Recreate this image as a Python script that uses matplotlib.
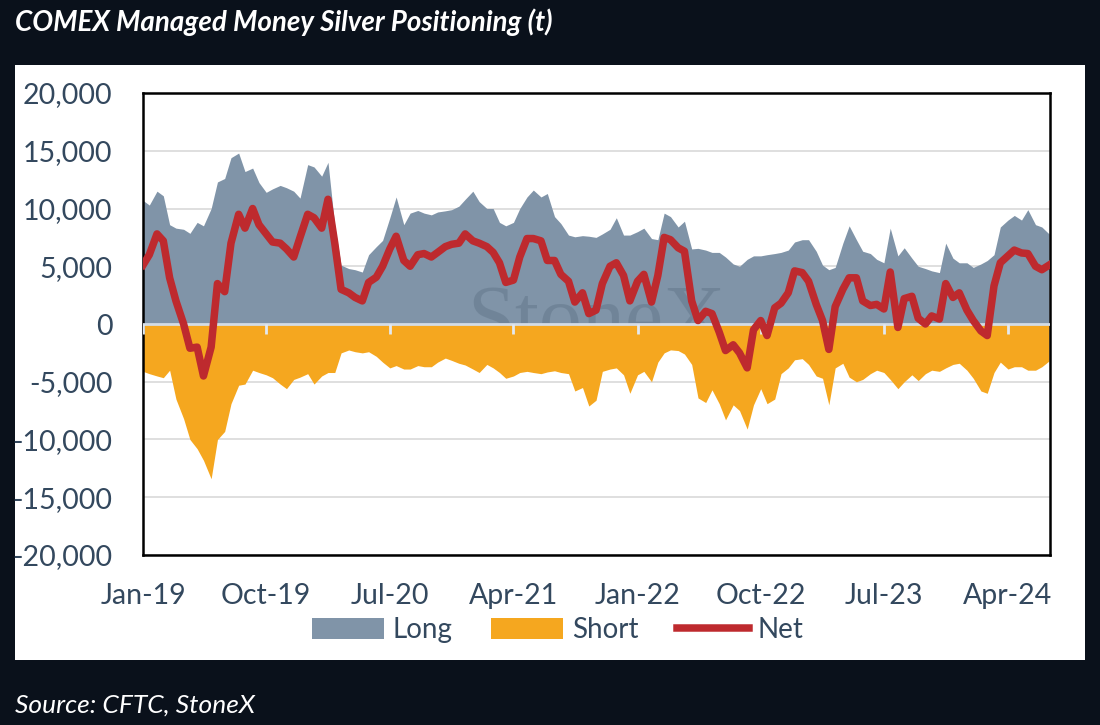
import matplotlib
matplotlib.use('Agg')
import matplotlib.pyplot as plt
import matplotlib.dates as mdates
from matplotlib.patches import Patch, Rectangle
from matplotlib.lines import Line2D
from matplotlib.ticker import FuncFormatter
import numpy as np
import pandas as pd

# semi-monthly samples, Jan-19 .. Jul-24 (tonnes)
dates = pd.date_range('2019-01-01', periods=133, freq='SMS')

long_pos = [10700, 10300, 11500, 11100, 8600, 8300, 8200, 7850, 8800, 8500,
            10000, 12300, 12600, 14400, 14800, 13200, 13500, 12250, 11400, 11700,
            12000, 11800, 11500, 10900, 13800, 13600, 12800, 14000, 8500, 5100,
            4800, 4700, 4500, 6000, 6700, 7240, 9200, 11000, 8600, 9600,
            9830, 9600, 9450, 9700, 9800, 9900, 10200, 10800, 11500, 10600,
            10000, 10000, 8800, 8500, 8800, 10000, 11000, 11600, 11000, 11300,
            9300, 8700, 7700, 7550, 7650, 7600, 7500, 7800, 8200, 9200,
            7700, 7700, 8000, 8300, 7400, 7300, 9600, 9300, 8400, 8900,
            6500, 6550, 6400, 6200, 6200, 5800, 5200, 5000, 5600, 5900,
            5900, 6000, 6100, 6200, 6400, 7100, 7300, 7300, 6300, 5100,
            4700, 4900, 7000, 8500, 7300, 6300, 6100, 5600, 5300, 8300,
            5900, 6600, 5700, 5000, 4800, 4600, 4450, 7000, 5700, 5300,
            5300, 4900, 5200, 5500, 6000, 8400, 9000, 9400, 9000, 9900,
            8600, 8400, 7800]

short_pos = [-4100, -4300, -4500, -4650, -4000, -6500, -8200, -10000, -10800, -11800,
             -13400, -10000, -9300, -6900, -5300, -5200, -4000, -4200, -4400, -4650,
             -5200, -5600, -4800, -4600, -4300, -5200, -4500, -4200, -4200, -2500,
             -2250, -2400, -2500, -2400, -2800, -3300, -3800, -3600, -3900, -3900,
             -3600, -3700, -3700, -3300, -2950, -3150, -3400, -3550, -3900, -4200,
             -3500, -3800, -4200, -4700, -4500, -4200, -4100, -4200, -4300, -4150,
             -4050, -4200, -4300, -5800, -5500, -7100, -6600, -4100, -3900, -3800,
             -4400, -6000, -4400, -4100, -5000, -3300, -2500, -2240, -2300, -2600,
             -3500, -6400, -6800, -5700, -6900, -8300, -7000, -7500, -9100, -7000,
             -5600, -6900, -6500, -4300, -3800, -3100, -3000, -3500, -4500, -4700,
             -7000, -3800, -3400, -4600, -5000, -4800, -4300, -4000, -4200, -4800,
             -5600, -5000, -4400, -4900, -4300, -4000, -4100, -3800, -3500, -3400,
             -4000, -4700, -5800, -6000, -4200, -3300, -3900, -3700, -3700, -4000,
             -4000, -3700, -3200]

net_pos = [5100, 6000, 7800, 7200, 4000, 2000, 0, -2100, -2000, -4500,
           -2000, 3500, 2800, 7000, 9500, 8300, 10000, 8600, 7800, 7100,
           7000, 6500, 5800, 7500, 9500, 9200, 8300, 10800, 7000, 3000,
           2700, 2300, 2000, 3600, 4050, 5000, 6500, 7600, 5500, 5000,
           6000, 6100, 5800, 6200, 6700, 6900, 7000, 7800, 7200, 7000,
           6700, 6200, 5300, 3600, 3800, 5800, 7400, 7400, 7200, 5500,
           5500, 4300, 3700, 1900, 2700, 900, 1200, 3500, 5000, 5300,
           4200, 2000, 3700, 4300, 1900, 4200, 7500, 7300, 6600, 6300,
           2000, 300, 1100, 900, -700, -2300, -1800, -2500, -3800, -500,
           300, -1000, 1400, 1800, 2700, 4600, 4450, 3700, 1700, 300,
           -2200, 1500, 3000, 4000, 4000, 2000, 1600, 1700, 1300, 4500,
           -300, 2200, 2400, 500, 0, 700, 430, 3500, 2300, 2700,
           1200, 300, -600, -1000, 3300, 5300, 5900, 6400, 6150, 6100,
           5000, 4700, 5100]

tick_dates = pd.to_datetime(['2019-01-01', '2019-10-01', '2020-07-01', '2021-04-01',
                             '2022-01-01', '2022-10-01', '2023-07-01', '2024-04-01'])

LONG_C = '#8094a8'
SHORT_C = '#f5a71f'
NET_C = '#be2a2e'
TEXT_C = '#33485e'
BG = '#0a111b'

plt.rcParams['font.family'] = ['Lato', 'DejaVu Sans']

fig = plt.figure(figsize=(11, 7.25), dpi=100)
fig.patch.set_facecolor(BG)
fig.add_artist(Rectangle((0.0136, 0.0897), 0.9728, 0.8206, transform=fig.transFigure,
                         facecolor='white', edgecolor='none', zorder=0))

ax = fig.add_axes([0.13, 0.2345, 0.8245, 0.6372])
ax.fill_between(dates, 0, long_pos, color=LONG_C, lw=0, zorder=1)
ax.text(0.5, 0.455, 'StoneX', transform=ax.transAxes, ha='center', va='baseline',
        fontsize=62, family='Liberation Serif', color='#4a5e72', alpha=0.28, zorder=1.5)
ax.fill_between(dates, 0, short_pos, color=SHORT_C, lw=0, zorder=2)
ax.axhline(0, color='#d3dce6', lw=2, zorder=3)
ax.plot(tick_dates, np.zeros(len(tick_dates)), ls='none', marker=3, ms=7, mew=2,
        color='#e3e9ef', zorder=3)
ax.plot(dates, net_pos, color=NET_C, lw=5.4, zorder=4, solid_joinstyle='round')

ax.set_xlim(pd.Timestamp('2019-01-01'), pd.Timestamp('2024-07-03'))
ax.set_ylim(-20000, 20000)
ax.set_yticks(range(-20000, 20001, 5000))
ax.yaxis.set_major_formatter(FuncFormatter(lambda v, p: f'{v:,.0f}'))
ax.set_xticks(tick_dates)
ax.xaxis.set_major_formatter(mdates.DateFormatter('%b-%y'))
ax.grid(axis='y', color='#d9d9d9', lw=1.2)
ax.set_axisbelow(True)
ax.tick_params(axis='both', length=0, labelsize=20.5, labelcolor=TEXT_C)
ax.tick_params(axis='y', pad=22)
ax.tick_params(axis='x', pad=20)
for s in ax.spines.values():
    s.set_color('black')
    s.set_linewidth(1.8)

handles = [Patch(facecolor=LONG_C, edgecolor='none'),
           Patch(facecolor=SHORT_C, edgecolor='none'),
           Line2D([0], [0], color=NET_C, lw=5.4)]
leg = fig.legend(handles, ['Long', 'Short', 'Net'], loc='center', bbox_to_anchor=(0.507, 1 - 630 / 725),
                 ncol=3, frameon=False, fontsize=20, handlelength=2.6, handleheight=0.8,
                 columnspacing=1.4, handletextpad=0.3)
for t in leg.get_texts():
    t.set_color(TEXT_C)

fig.text(15 / 1100, 1 - 22 / 725, 'COMEX Managed Money Silver Positioning (t)', fontsize=20,
         fontweight='bold', style='italic', color='white', va='center')
fig.text(15 / 1100, 1 - 705 / 725, 'Source: CFTC, StoneX', fontsize=19, style='italic',
         color='white', va='center')

fig.savefig('out.png', dpi=100, facecolor=fig.get_facecolor())
